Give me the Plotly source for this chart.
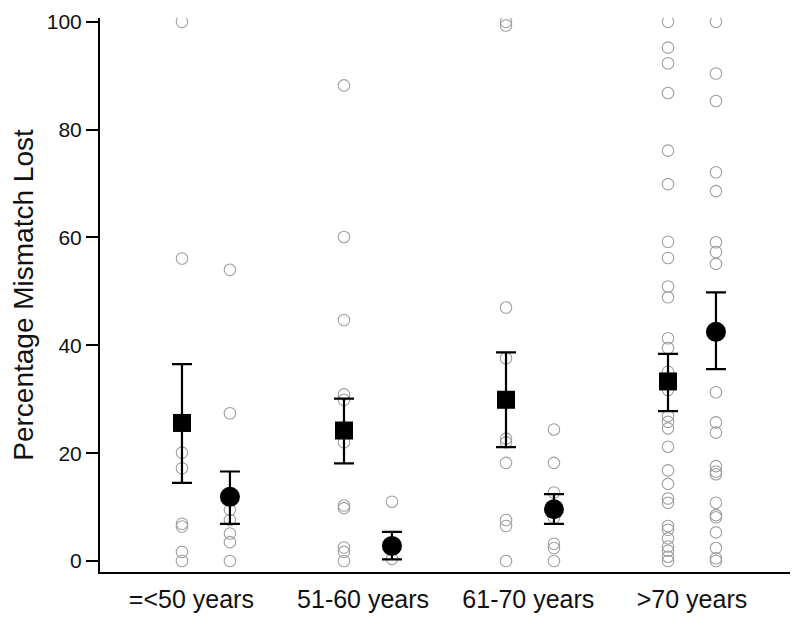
import plotly.graph_objects as go

groups = ["=<50 years", "51-60 years", "61-70 years", ">70 years"]

# individual observations, first (square) series per group
sq_pts = [
    [100, 56.1, 20.1, 17.2, 6.9, 6.4, 1.7, 0],
    [88.2, 60.1, 44.7, 30.9, 29.9, 22.0, 10.3, 9.8, 2.5, 1.7, 0],
    [100, 99.3, 47.0, 37.6, 22.7, 22.0, 18.2, 7.6, 6.5, 0],
    [100, 95.2, 92.3, 86.8, 76.1, 69.9, 59.2, 56.2, 50.9, 48.9, 41.3, 39.5,
     35.1, 31.7, 26.9, 25.8, 24.6, 21.2, 16.8, 14.3, 11.6, 10.8, 6.5, 5.8,
     4.2, 2.7, 1.9, 0.8, 0],
]
# individual observations, second (circle) series per group
ci_pts = [
    [54.0, 27.4, 9.5, 7.6, 5.1, 3.5, 0],
    [11.0, 0.4],
    [24.4, 18.2, 12.7, 8.0, 3.2, 2.4, 0],
    [100, 90.4, 85.3, 72.1, 68.6, 59.1, 57.3, 55.1, 31.3, 25.7, 23.8, 17.6,
     16.6, 16.1, 10.8, 8.5, 8.1, 5.3, 2.4, 0.5, 0],
]

sq_mean = [25.6, 24.2, 29.9, 33.3]
sq_hi = [36.5, 30.1, 38.7, 38.4]
sq_lo = [14.5, 18.1, 21.1, 27.8]

ci_mean = [11.9, 2.8, 9.6, 42.5]
ci_hi = [16.6, 5.4, 12.4, 49.8]
ci_lo = [6.9, 0.3, 6.9, 35.6]

OFF = 0.148

fig = go.Figure()

# open points
for i in range(len(groups)):
    fig.add_trace(go.Scatter(
        x=[i - OFF] * len(sq_pts[i]), y=sq_pts[i], mode="markers",
        marker=dict(symbol="circle-open", size=11.5, color="#a0a0a0",
                    line=dict(width=1.1, color="#a0a0a0")),
        showlegend=False, hoverinfo="y"))
    fig.add_trace(go.Scatter(
        x=[i + OFF] * len(ci_pts[i]), y=ci_pts[i], mode="markers",
        marker=dict(symbol="circle-open", size=11.5, color="#a0a0a0",
                    line=dict(width=1.1, color="#a0a0a0")),
        showlegend=False, hoverinfo="y"))

xs_sq = [i - OFF for i in range(len(groups))]
xs_ci = [i + OFF for i in range(len(groups))]

fig.add_trace(go.Scatter(
    x=xs_sq, y=sq_mean, mode="markers",
    marker=dict(symbol="square", size=18, color="black"),
    error_y=dict(type="data", symmetric=False,
                 array=[h - m for h, m in zip(sq_hi, sq_mean)],
                 arrayminus=[m - l for m, l in zip(sq_mean, sq_lo)],
                 color="black", thickness=2.2, width=10),
    showlegend=False))
fig.add_trace(go.Scatter(
    x=xs_ci, y=ci_mean, mode="markers",
    marker=dict(symbol="circle", size=20, color="black"),
    error_y=dict(type="data", symmetric=False,
                 array=[h - m for h, m in zip(ci_hi, ci_mean)],
                 arrayminus=[m - l for m, l in zip(ci_mean, ci_lo)],
                 color="black", thickness=2.2, width=10),
    showlegend=False))

fig.update_layout(
    width=792, height=618,
    margin=dict(l=92, r=10, t=10, b=54),
    paper_bgcolor="white", plot_bgcolor="white",
    font=dict(family="Liberation Sans, Arial, sans-serif", color="#111"),
    xaxis=dict(range=[-0.654, 3.605], tickmode="array",
               tickvals=[-0.09, 0.97, 1.99, 3.0], ticktext=groups,
               showgrid=False, zeroline=False, showline=True,
               linecolor="black", linewidth=2, ticks="outside",
               ticklen=4, tickcolor="rgba(0,0,0,0)",
               tickfont=dict(size=25), automargin=False),
    yaxis=dict(range=[-2.04, 100.7], tickvals=[0, 20, 40, 60, 80, 100],
               showgrid=False, zeroline=False, showline=True,
               linecolor="black", linewidth=2, ticks="outside",
               ticklen=12, tickwidth=2, tickcolor="black",
               tickfont=dict(size=21), automargin=False,
               title=dict(text="Percentage Mismatch Lost",
                          font=dict(size=28), standoff=14)),
)

fig.write_html("out.html")
